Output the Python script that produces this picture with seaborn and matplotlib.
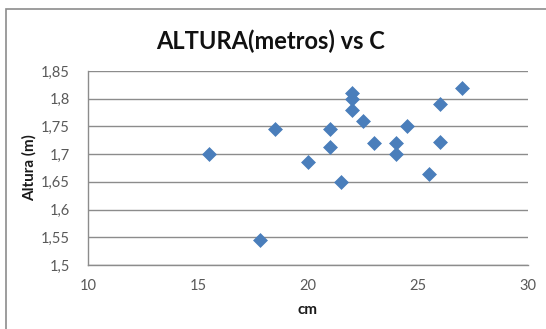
import matplotlib
matplotlib.use("Agg")
import matplotlib.pyplot as plt
from matplotlib.patches import Rectangle
import seaborn as sns
import pandas as pd

# Measurements: circumference (cm) against height (m)
cm = [15.5, 17.8, 18.5, 20.0, 21.0, 21.0, 21.5, 22.0, 22.0, 22.0,
      22.5, 23.0, 24.0, 24.0, 24.5, 25.5, 26.0, 26.0, 27.0]
altura = [1.70, 1.545, 1.745, 1.685, 1.745, 1.712, 1.65, 1.81, 1.80, 1.78,
          1.76, 1.72, 1.72, 1.70, 1.75, 1.665, 1.79, 1.722, 1.82]

x_ticks = [10, 15, 20, 25, 30]
y_ticks = [1.5, 1.55, 1.6, 1.65, 1.7, 1.75, 1.8, 1.85]
y_labels = ["1,5", "1,55", "1,6", "1,65", "1,7", "1,75", "1,8", "1,85"]

df = pd.DataFrame({"cm": cm, "altura": altura})

sns.set_theme(style="white")
plt.rcParams["font.family"] = ["Lato", "DejaVu Sans"]

W, H = 546, 329
fig = plt.figure(figsize=(W / 100, H / 100), dpi=100)
ax = fig.add_axes([88 / W, 1 - 265 / H, 440 / W, 194 / H])

grid_c = "#8c8c8c"
text_c = "#595959"

sns.scatterplot(data=df, x="cm", y="altura", ax=ax, marker="D", s=50,
                color="#4a7ebb", edgecolor="#4a7ebb", linewidth=0.5, zorder=3)

ax.set_xlim(10, 30)
ax.set_ylim(1.5, 1.85)
ax.set_xticks(x_ticks)
ax.set_xticklabels([str(t) for t in x_ticks])
ax.set_yticks(y_ticks)
ax.set_yticklabels(y_labels)
ax.tick_params(axis="both", length=0, labelsize=10.5, colors=text_c)
ax.tick_params(axis="y", pad=13)
ax.tick_params(axis="x", pad=10)

ax.yaxis.grid(True, color=grid_c, linewidth=1)
ax.xaxis.grid(False)
for side in ["top", "right"]:
    ax.spines[side].set_visible(False)
for side in ["left", "bottom"]:
    ax.spines[side].set_color(grid_c)
    ax.spines[side].set_linewidth(1)

ax.set_xlabel("cm", fontsize=11, fontweight="bold", color="#1a1a1a", labelpad=7)
ax.set_ylabel("Altura (m)", fontsize=11, fontweight="bold", color="#1a1a1a", labelpad=3)

fig.text(271 / W, 1 - 41 / H, "ALTURA(metros) vs C", ha="center", va="center",
         fontsize=17, fontweight="bold", color="#111111")

# chart area frame
fig.patches.append(Rectangle((5.5 / W, -0.05), 1.2, 1 - 8.5 / H + 0.05,
                             transform=fig.transFigure, fill=False,
                             edgecolor=grid_c, linewidth=1.2))

fig.savefig("out.png", dpi=100)
